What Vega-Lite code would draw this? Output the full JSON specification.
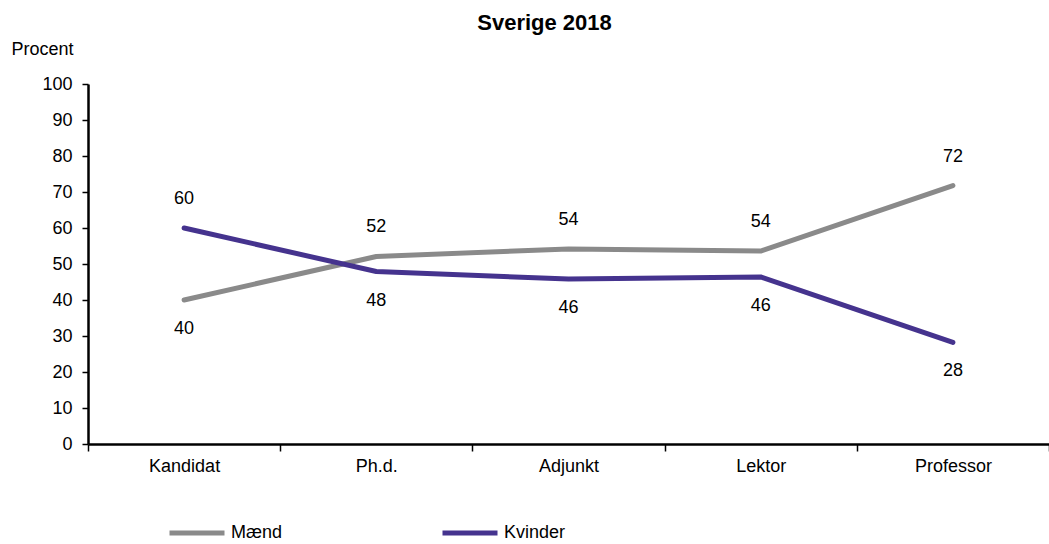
{
  "$schema": "https://vega.github.io/schema/vega-lite/v6.json",
  "width": 961,
  "height": 360,
  "autosize": {"type": "none"},
  "padding": {"left": 88, "top": 84, "right": 0, "bottom": 100},
  "background": "white",
  "config": {
    "font": "Liberation Sans",
    "view": {"stroke": null}
  },
  "title": {
    "text": "Sverige 2018",
    "fontSize": 22,
    "fontWeight": "bold",
    "font": "Liberation Sans",
    "color": "#000000",
    "anchor": "middle",
    "frame": "group",
    "dx": -24,
    "baseline": "alphabetic",
    "offset": -12
  },
  "data": {
    "values": [
      {"stilling": "Kandidat", "køn": "Mænd", "pct": 40.0},
      {"stilling": "Ph.d.", "køn": "Mænd", "pct": 52.1},
      {"stilling": "Adjunkt", "køn": "Mænd", "pct": 54.2},
      {"stilling": "Lektor", "køn": "Mænd", "pct": 53.6},
      {"stilling": "Professor", "køn": "Mænd", "pct": 71.8},
      {"stilling": "Kandidat", "køn": "Kvinder", "pct": 60.0},
      {"stilling": "Ph.d.", "køn": "Kvinder", "pct": 47.9},
      {"stilling": "Adjunkt", "køn": "Kvinder", "pct": 45.8},
      {"stilling": "Lektor", "køn": "Kvinder", "pct": 46.4},
      {"stilling": "Professor", "køn": "Kvinder", "pct": 28.2}
    ]
  },
  "encoding": {
    "x": {
      "field": "stilling",
      "type": "nominal",
      "sort": ["Kandidat", "Ph.d.", "Adjunkt", "Lektor", "Professor"],
      "scale": {"type": "band", "paddingInner": 0, "paddingOuter": 0},
      "axis": {
        "title": null,
        "labelAngle": 0,
        "labelFontSize": 18,
        "labelColor": "#000000",
        "labelFont": "Liberation Sans",
        "domainColor": "#000000",
        "domainWidth": 2.5,
        "tickColor": "#000000",
        "tickWidth": 1.5,
        "tickSize": 7,
        "tickBand": "extent",
        "labelPadding": 6,
        "grid": false
      }
    },
    "y": {
      "field": "pct",
      "type": "quantitative",
      "scale": {"domain": [0, 100], "nice": false},
      "axis": {
        "title": "Procent",
        "titleAngle": 0,
        "titleFontSize": 18,
        "titleFontWeight": "normal",
        "titleFont": "Liberation Sans",
        "titleColor": "#000000",
        "titleAlign": "left",
        "titleBaseline": "alphabetic",
        "titleX": -77,
        "titleY": -30,
        "values": [0, 10, 20, 30, 40, 50, 60, 70, 80, 90, 100],
        "labelFontSize": 18,
        "labelColor": "#000000",
        "labelFont": "Liberation Sans",
        "domainColor": "#000000",
        "domainWidth": 2.5,
        "tickColor": "#000000",
        "tickWidth": 1.5,
        "tickSize": 6,
        "labelPadding": 10,
        "grid": false
      }
    }
  },
  "layer": [
    {
      "mark": {"type": "line", "strokeWidth": 5, "strokeCap": "round", "strokeJoin": "round"},
      "encoding": {
        "color": {
          "field": "køn",
          "type": "nominal",
          "sort": ["Mænd", "Kvinder"],
          "scale": {"domain": ["Mænd", "Kvinder"], "range": ["#8a8a8a", "#45338e"]},
          "legend": {
            "title": null,
            "orient": "none",
            "legendX": 79,
            "legendY": 419,
            "direction": "horizontal",
            "columns": 2,
            "columnPadding": 149,
            "symbolType": "stroke",
            "symbolSize": 3025,
            "symbolStrokeWidth": 5,
            "labelFontSize": 18,
            "labelColor": "#000000",
            "labelFont": "Liberation Sans",
            "labelOffset": 4
          }
        }
      }
    },
    {
      "transform": [
        {"joinaggregate": [{"op": "max", "field": "pct", "as": "maxpct"}], "groupby": ["stilling"]},
        {"filter": "datum.pct >= datum.maxpct"}
      ],
      "mark": {"type": "text", "dy": -29, "fontSize": 18, "color": "#000000", "font": "Liberation Sans", "baseline": "middle"},
      "encoding": {"text": {"field": "pct", "type": "quantitative", "format": ".0f"}}
    },
    {
      "transform": [
        {"joinaggregate": [{"op": "max", "field": "pct", "as": "maxpct"}], "groupby": ["stilling"]},
        {"filter": "datum.pct < datum.maxpct"}
      ],
      "mark": {"type": "text", "dy": 29, "fontSize": 18, "color": "#000000", "font": "Liberation Sans", "baseline": "middle"},
      "encoding": {"text": {"field": "pct", "type": "quantitative", "format": ".0f"}}
    }
  ]
}
